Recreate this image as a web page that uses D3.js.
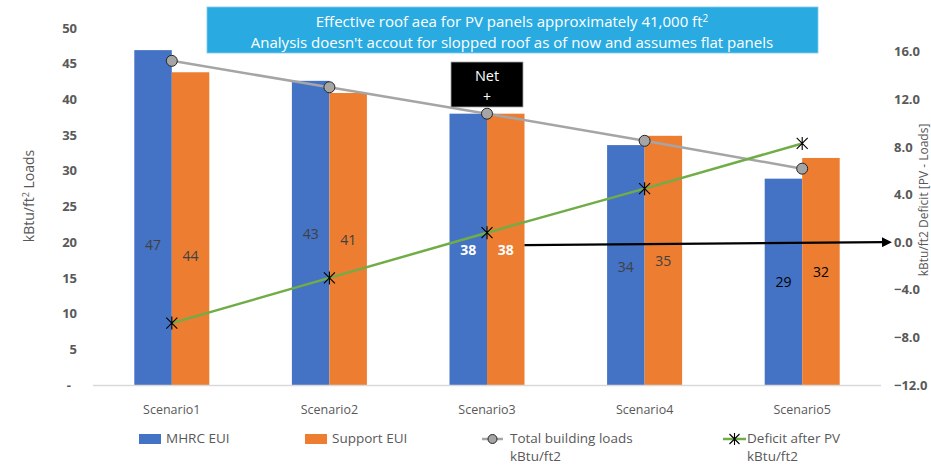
<!DOCTYPE html>
<html>
<head>
<meta charset="utf-8">
<script src="https://cdn.jsdelivr.net/npm/d3@7"></script>
<style>
  body { margin: 0; background: #fff; }
  svg { font-family: "Open Sans", Lato, sans-serif; }
</style>
</head>
<body>
<svg id="chart" width="931" height="465"></svg>
<script>
// chart data
let scenarios = ["Scenario1", "Scenario2", "Scenario3", "Scenario4", "Scenario5"];
let mhrcEui = [46.9, 42.6, 38.0, 33.6, 28.9];
let supportEui = [43.8, 40.9, 38.0, 34.9, 31.8];
let totalLoads = [45.4, 41.7, 38.0, 34.2, 30.3];
let deficit = [-6.8, -3.0, 0.8, 4.5, 8.3];
let leftTicks = [0, 5, 10, 15, 20, 25, 30, 35, 40, 45, 50];
let rightTicks = [-12, -8, -4, 0, 4, 8, 12, 16];
let seriesNames = ["MHRC EUI", "Support EUI"];

let svg = d3.select("#chart");

let plotLeft = 93, plotRight = 881, plotTop = 28, plotBottom = 385;

let xScale = d3.scaleBand()
  .domain(scenarios)
  .range([plotLeft, plotRight]);

let groupWidth = 75;
let inner = d3.scaleBand()
  .domain(seriesNames)
  .range([-groupWidth / 2, groupWidth / 2]);

let yLeft = d3.scaleLinear().domain([0, 50]).range([plotBottom, plotTop]);
let yRight = d3.scaleLinear().domain([-12, 18]).range([plotBottom, plotTop]);

let cx = function(i) { return xScale(scenarios[i]) + xScale.bandwidth() / 2; };

// axes (text only, Excel style)
let leftAxis = d3.axisLeft(yLeft)
  .tickValues(leftTicks)
  .tickSize(0)
  .tickPadding(0)
  .tickFormat(function(d) { return d === 0 ? "-" : d; });
let lg = svg.append("g").attr("transform", "translate(77,0)").call(leftAxis);
lg.select(".domain").remove();
lg.selectAll("text")
  .attr("fill", "#595959")
  .style("font-size", "13px")
  .style("font-family", "'Open Sans', sans-serif")
  .style("font-weight", "bold")
  .attr("dx", function(d) { return d === 0 ? "-6px" : 0; });

let rightAxis = d3.axisRight(yRight)
  .tickValues(rightTicks)
  .tickSize(0)
  .tickPadding(0)
  .tickFormat(d3.format(".1f"));
let rg = svg.append("g").attr("transform", "translate(894,0)").call(rightAxis);
rg.select(".domain").remove();
rg.selectAll("text")
  .attr("fill", "#595959")
  .style("font-size", "13px")
  .style("font-family", "'Open Sans', sans-serif")
  .style("font-weight", "bold");

// bars
let barData = [];
scenarios.forEach(function(s, i) {
  barData.push({ cat: s, series: seriesNames[0], value: mhrcEui[i], color: "#4472C4" });
  barData.push({ cat: s, series: seriesNames[1], value: supportEui[i], color: "#ED7D31" });
});

svg.append("g").selectAll("rect")
  .data(barData)
  .enter().append("rect")
  .attr("x", function(d) { return xScale(d.cat) + xScale.bandwidth() / 2 + inner(d.series); })
  .attr("width", inner.bandwidth())
  .attr("y", function(d) { return yLeft(d.value); })
  .attr("height", function(d) { return yLeft(0) - yLeft(d.value); })
  .attr("fill", function(d) { return d.color; });

// x baseline
svg.append("line")
  .attr("x1", plotLeft).attr("x2", plotRight)
  .attr("y1", plotBottom + 0.5).attr("y2", plotBottom + 0.5)
  .attr("stroke", "#D9D9D9").attr("stroke-width", 1.5);

// category labels
svg.append("g").selectAll("text")
  .data(scenarios)
  .enter().append("text")
  .attr("x", function(d, i) { return cx(i); })
  .attr("y", 414)
  .attr("text-anchor", "middle")
  .attr("fill", "#595959")
  .style("font-size", "12.5px")
  .text(function(d) { return d; });

// data labels (manually placed heights, like the source chart)
let labelLevel = [[19.6, 18.1], [21.1, 20.3], [18.9, 18.9], [16.5, 17.4], [14.4, 15.8]];
barData.forEach(function(d, k) {
  let i = Math.floor(k / 2), j = k % 2;
  let color = "#404040", weight = "normal";
  if (i === 2) { color = "#ffffff"; weight = "bold"; }
  if (i === 4) { color = "#000000"; }
  svg.append("text")
    .attr("x", xScale(d.cat) + xScale.bandwidth() / 2 + inner(d.series) + inner.bandwidth() / 2)
    .attr("y", yLeft(labelLevel[i][j]))
    .attr("dy", "0.35em")
    .attr("text-anchor", "middle")
    .attr("fill", color)
    .style("font-size", "14px")
    .style("font-weight", weight)
    .text(Math.round(d.value));
});

// total building loads line
let loadsLine = d3.line()
  .x(function(d, i) { return cx(i); })
  .y(function(d) { return yLeft(d); });
svg.append("path")
  .datum(totalLoads)
  .attr("d", loadsLine)
  .attr("fill", "none")
  .attr("stroke", "#A5A5A5")
  .attr("stroke-width", 2.5);

// deficit line
let deficitLine = d3.line()
  .x(function(d, i) { return cx(i); })
  .y(function(d) { return yRight(d); });
svg.append("path")
  .datum(deficit)
  .attr("d", deficitLine)
  .attr("fill", "none")
  .attr("stroke", "#70AD47")
  .attr("stroke-width", 2.5);

svg.append("g").selectAll("circle")
  .data(totalLoads)
  .enter().append("circle")
  .attr("cx", function(d, i) { return cx(i); })
  .attr("cy", function(d) { return yLeft(d); })
  .attr("r", 5.5)
  .attr("fill", "#A5A5A5")
  .attr("stroke", "#262626")
  .attr("stroke-width", 1);

let xMark = function(g, x, y, s) {
  g.append("path")
    .attr("d", "M" + (x - s) + "," + (y - s) + "L" + (x + s) + "," + (y + s) +
               "M" + (x - s) + "," + (y + s) + "L" + (x + s) + "," + (y - s) +
               "M" + x + "," + (y - s - 1) + "L" + x + "," + (y + s + 1))
    .attr("stroke", "#000")
    .attr("stroke-width", 1.1)
    .attr("fill", "none");
};
let dg = svg.append("g");
deficit.forEach(function(d, i) { xMark(dg, cx(i), yRight(d), 5.5); });

// arrow to zero on the right axis
let defs = svg.append("defs");
defs.append("marker")
  .attr("id", "arrow")
  .attr("viewBox", "0 0 10 10")
  .attr("refX", 2).attr("refY", 5)
  .attr("markerWidth", 4.5).attr("markerHeight", 4.5)
  .attr("orient", "auto")
  .append("path")
  .attr("d", "M0,0L10,5L0,10z")
  .attr("fill", "#000");

svg.append("line")
  .attr("x1", cx(2) + groupWidth / 2).attr("y1", yRight(-0.25))
  .attr("x2", 884).attr("y2", yRight(0))
  .attr("stroke", "#000")
  .attr("stroke-width", 2.2)
  .attr("marker-end", "url(#arrow)");

// "Net +" box
let netX = cx(2) - 36;
svg.append("rect")
  .attr("x", netX).attr("y", 62)
  .attr("width", 72).attr("height", 45)
  .attr("fill", "#000")
  .attr("stroke", "#A6A6A6")
  .attr("stroke-width", 0.8);
svg.append("text")
  .attr("x", cx(2)).attr("y", 81)
  .attr("text-anchor", "middle")
  .attr("fill", "#fff")
  .style("font-size", "14.5px")
  .text("Net");
svg.append("text")
  .attr("x", cx(2)).attr("y", 102)
  .attr("text-anchor", "middle")
  .attr("fill", "#fff")
  .style("font-size", "14px")
  .text("+");

// info box at the top
svg.append("rect")
  .attr("x", 207).attr("y", 7)
  .attr("width", 611).attr("height", 46)
  .attr("fill", "#29ABE2")
  .attr("stroke", "#7FCBEA")
  .attr("stroke-width", 0.8);
let t1 = svg.append("text")
  .attr("x", 512).attr("y", 27)
  .attr("text-anchor", "middle")
  .attr("fill", "#fff")
  .style("font-size", "15px");
t1.append("tspan").text("Effective  roof aea for PV panels approximately 41,000 ft");
t1.append("tspan").attr("dy", "-5").style("font-size", "10px").text("2");
svg.append("text")
  .attr("x", 512).attr("y", 48)
  .attr("text-anchor", "middle")
  .attr("fill", "#fff")
  .style("font-size", "15px")
  .text("Analysis doesn't accout for slopped roof as of now and assumes flat panels");

// axis titles
let lt = svg.append("text")
  .attr("transform", "translate(34,196) rotate(-90)")
  .attr("text-anchor", "middle")
  .attr("fill", "#595959")
  .style("font-size", "14px");
lt.append("tspan").text("kBtu/ft");
lt.append("tspan").attr("dy", "-5").style("font-size", "9px").text("2");
lt.append("tspan").attr("dy", "5").text(" Loads");

svg.append("text")
  .attr("transform", "translate(928,200) rotate(-90)")
  .attr("text-anchor", "middle")
  .attr("fill", "#595959")
  .style("font-size", "12px")
  .text("kBtu/ft2 Deficit [PV - Loads]");

// legend
let legend = svg.append("g").style("font-size", "13.5px").attr("fill", "#595959");
legend.append("rect").attr("x", 139).attr("y", 434).attr("width", 22).attr("height", 10).attr("fill", "#4472C4");
legend.append("text").attr("x", 166).attr("y", 443).text(seriesNames[0]);
legend.append("rect").attr("x", 305).attr("y", 434).attr("width", 22).attr("height", 10).attr("fill", "#ED7D31");
legend.append("text").attr("x", 332).attr("y", 443).text(seriesNames[1]);

legend.append("line").attr("x1", 482).attr("x2", 503).attr("y1", 439).attr("y2", 439)
  .attr("stroke", "#A5A5A5").attr("stroke-width", 2.5);
legend.append("circle").attr("cx", 492.5).attr("cy", 439).attr("r", 4.5)
  .attr("fill", "#A5A5A5").attr("stroke", "#262626").attr("stroke-width", 1);
legend.append("text").attr("x", 510).attr("y", 443).text("Total building loads");
legend.append("text").attr("x", 510).attr("y", 461).text("kBtu/ft2");

legend.append("line").attr("x1", 723).attr("x2", 746).attr("y1", 439).attr("y2", 439)
  .attr("stroke", "#70AD47").attr("stroke-width", 2.5);
xMark(legend, 734.5, 439, 5);
legend.append("text").attr("x", 747).attr("y", 443).text("Deficit after PV");
legend.append("text").attr("x", 747).attr("y", 461).text("kBtu/ft2");
</script>
</body>
</html>
